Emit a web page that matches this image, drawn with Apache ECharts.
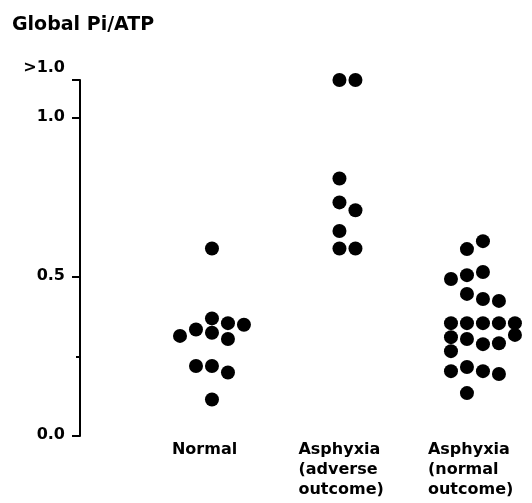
<!DOCTYPE html>
<html>
<head>
<meta charset="utf-8">
<script src="https://cdn.jsdelivr.net/npm/echarts@6/dist/echarts.min.js"></script>
<style>
  html, body { margin: 0; padding: 0; background: #fff; }
  #chart { width: 532px; height: 503px; }
</style>
</head>
<body>
<div id="chart"></div>
<script>
// groups along the x axis (1, 2, 3)
const groupNames = [['Normal'], ['Asphyxia', '(adverse', 'outcome)'], ['Asphyxia', '(normal', 'outcome)']]

// Global Pi/ATP per subject, with the column slot of each dot in the dot plot
const normalValues = [0.59, 0.37, 0.355, 0.35, 0.335, 0.315, 0.325, 0.305, 0.22, 0.22, 0.20, 0.115]
const normalSlots = [0, 0, 1, 2, -1, -2, 0, 1, -1, 0, 1, 0]

// 1.12 stands for the ">1.0" row
const adverseValues = [1.12, 1.12, 0.81, 0.735, 0.71, 0.645, 0.59, 0.59]
const adverseSlots = [-0.5, 0.5, -0.5, -0.5, 0.5, -0.5, -0.5, 0.5]

const normalOutcomeValues = [0.613, 0.588, 0.516, 0.506, 0.494, 0.447, 0.431, 0.425,
  0.355, 0.355, 0.355, 0.355, 0.355, 0.318, 0.311, 0.305, 0.289, 0.292, 0.267,
  0.204, 0.217, 0.204, 0.195, 0.135]
const normalOutcomeSlots = [0, -1, 0, -1, -2, -1, 0, 1,
  -2, -1, 0, 1, 2, 2, -2, -1, 0, 1, -2,
  -2, -1, 0, 1, -1]

const yTickValues = [0, 0.5, 1.0, 1.12]
const yTickLabels = ['0.0', '0.5', '1.0', '>1.0']
const yMinorTicks = [0.25]

const SLOT = 0.118 // dot spacing in x units
const FONT = 'DejaVu Sans'

function toPoints (group, values, slots) {
  return values.map(function (v, i) {
    return [group + slots[i] * SLOT, v]
  })
}

const chart = echarts.init(document.getElementById('chart'))
const dotStyle = {
  type: 'scatter',
  symbol: 'circle',
  symbolSize: 14,
  clip: false,
  itemStyle: { color: '#000', opacity: 1 },
  silent: true
}
const labelText = { fontFamily: FONT, fontSize: 16, fontWeight: 'bold', color: '#000', align: 'left', lineHeight: 20 }

const option = {
  animation: false,
  title: {
    text: 'Global Pi/ATP',
    left: 7,
    top: 11,
    textStyle: { fontFamily: FONT, fontSize: 19, fontWeight: 'bold', color: '#000' }
  },
  grid: { left: 80, right: 0, top: 80, bottom: 67, outerBoundsMode: 'none', containLabel: false },
  xAxis: {
    type: 'value',
    min: 0.026,
    max: 3.362,
    splitLine: { show: false },
    axisLine: { show: false },
    axisTick: { show: false },
    axisLabel: {
      customValues: [1, 2, 3],
      margin: 4,
      formatter: function (v) {
        const g = Math.round(v)
        return groupNames[g - 1].map(function (s) { return '{g' + g + '|' + s + '}' }).join('\n')
      },
      rich: {
        g1: Object.assign({ width: 80 }, labelText),
        g2: Object.assign({ width: 98 }, labelText),
        g3: Object.assign({ width: 110 }, labelText)
      }
    }
  },
  yAxis: [{
    type: 'value',
    min: 0,
    max: 1.12,
    splitLine: { show: false },
    axisLine: { show: true, lineStyle: { color: '#000', width: 2 } },
    axisTick: { show: true, customValues: yTickValues, length: 8, lineStyle: { color: '#000', width: 2 } },
    axisLabel: {
      customValues: yTickValues,
      margin: 15,
      formatter: function (v) {
        const i = yTickValues.indexOf(v)
        return i === 3 ? '{t|' + yTickLabels[i] + '}' : '{n|' + yTickLabels[i] + '}'
      },
      rich: {
        n: { fontFamily: FONT, fontSize: 16, fontWeight: 'bold', color: '#000', padding: [0, 0, 3, 0] },
        t: { fontFamily: FONT, fontSize: 16, fontWeight: 'bold', color: '#000', padding: [0, 0, 24, 0] }
      }
    }
  }, {
    type: 'value',
    position: 'left',
    min: 0,
    max: 1.12,
    splitLine: { show: false },
    axisLine: { show: false },
    axisLabel: { show: false },
    axisTick: { show: true, customValues: yMinorTicks, length: 4, lineStyle: { color: '#000', width: 2 } }
  }],
  series: [
    Object.assign({ data: toPoints(1, normalValues, normalSlots) }, dotStyle),
    Object.assign({ data: toPoints(2, adverseValues, adverseSlots) }, dotStyle),
    Object.assign({ data: toPoints(3, normalOutcomeValues, normalOutcomeSlots) }, dotStyle)
  ]
}
chart.setOption(option)
</script>
</body>
</html>
